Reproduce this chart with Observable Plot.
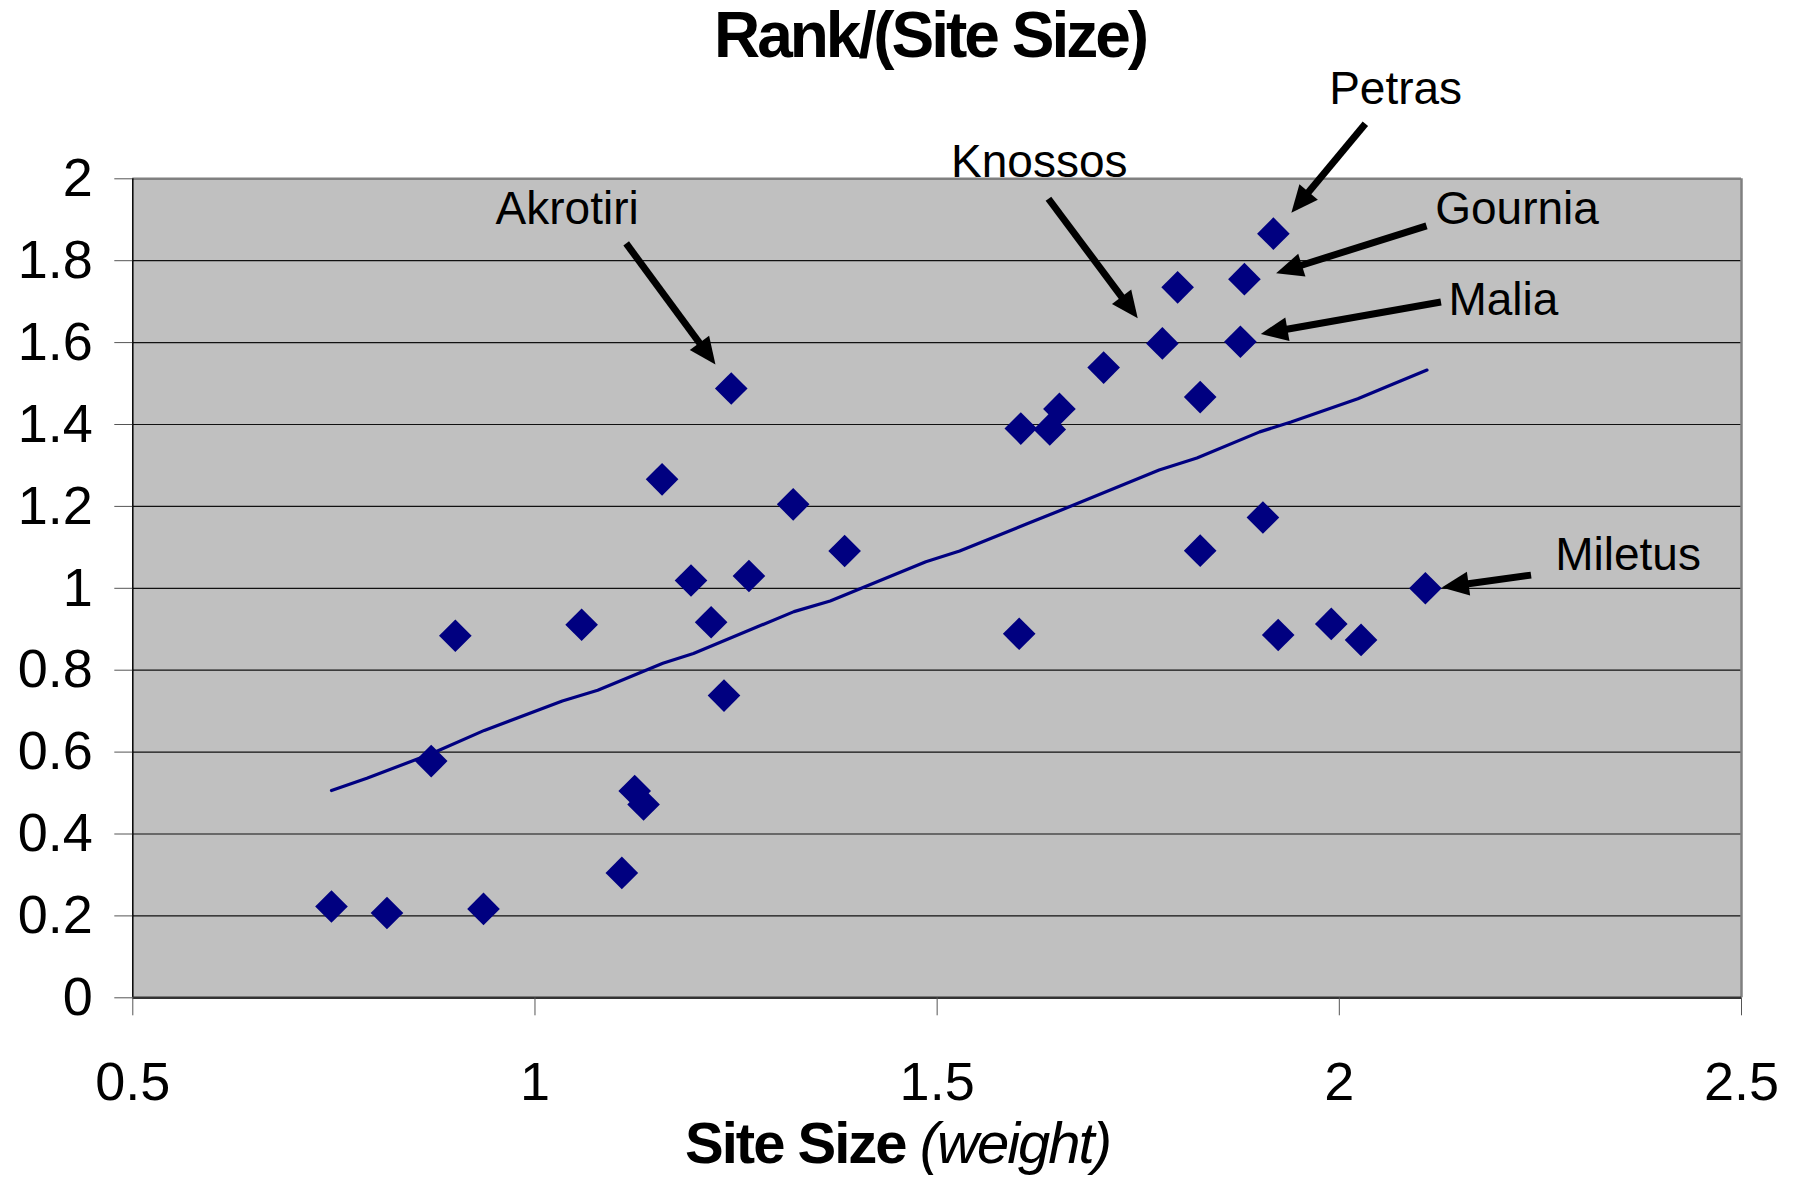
<!DOCTYPE html>
<html>
<head>
<meta charset="utf-8">
<script src="https://cdn.jsdelivr.net/npm/d3@7"></script>
<script src="https://cdn.jsdelivr.net/npm/@observablehq/plot@0.6"></script>
<style>
  html, body { margin: 0; padding: 0; background: white; overflow: hidden; }
  #wrap { position: relative; width: 1808px; height: 1177px; overflow: hidden; font-family: "Liberation Sans", Arial, sans-serif; }
  #title { position: absolute; left: 0; width: 1860px; top: 3px; text-align: center; font-weight: bold; font-size: 64px; line-height: 64px; letter-spacing: -3px; color: black; }
  #xlabel { position: absolute; left: 0; width: 1795px; top: 1114px; text-align: center; font-size: 58px; line-height: 58px; letter-spacing: -2px; color: black; white-space: nowrap; }
  #xlabel b { font-weight: bold; }
  #xlabel i { font-style: italic; font-weight: normal; }
</style>
</head>
<body>
<div id="wrap">
  <div id="chart"></div>
  <div id="title">Rank/(Site Size)</div>
  <div id="xlabel"><b>Site Size</b> <i>(weight)</i></div>
</div>
<script>
// ---- data ----
const siteSize = [0.747, 0.816, 0.871, 0.901, 0.936, 1.058, 1.108, 1.124, 1.135, 1.158,
                  1.194, 1.219, 1.235, 1.244, 1.266, 1.321, 1.385, 1.602, 1.604, 1.640,
                  1.652, 1.707, 1.780, 1.799, 1.827, 1.827, 1.877, 1.882, 1.905, 1.918,
                  1.924, 1.990, 2.027, 2.107];
const rankRatio = [0.223, 0.207, 0.578, 0.884, 0.217, 0.911, 0.305, 0.505, 0.472, 1.266,
                   1.019, 0.917, 0.738, 1.488, 1.030, 1.205, 1.091, 0.889, 1.390, 1.388,
                   1.438, 1.539, 1.598, 1.735, 1.467, 1.092, 1.602, 1.755, 1.173, 1.866,
                   0.886, 0.913, 0.874, 1.000];

const trendX = [0.747, 0.791, 0.871, 0.937, 1.034, 1.078, 1.159, 1.197, 1.322, 1.367,
                1.486, 1.528, 1.611, 1.653, 1.776, 1.823, 1.901, 1.940, 2.023, 2.067, 2.109];
const trendY = [0.506, 0.536, 0.596, 0.653, 0.725, 0.751, 0.817, 0.841, 0.943, 0.969,
                1.065, 1.091, 1.157, 1.190, 1.289, 1.318, 1.382, 1.406, 1.463, 1.499, 1.533];

const labels  = ["Akrotiri", "Knossos", "Petras", "Gournia", "Malia", "Miletus"];
const labelX  = [1.040, 1.627, 2.070, 2.221, 2.204, 2.359];
const labelY  = [1.925, 2.040, 2.218, 1.926, 1.704, 1.080];
const arrowX1 = [1.114, 1.639, 2.033, 2.109, 2.127, 2.239];
const arrowY1 = [1.841, 1.950, 2.133, 1.884, 1.698, 1.031];
const arrowX2 = [1.225, 1.750, 1.941, 1.922, 1.903, 2.128];
const arrowY2 = [1.545, 1.658, 1.916, 1.768, 1.620, 1.001];

const xTicks = [0.5, 1, 1.5, 2, 2.5];
const xTickLabels = ["0.5", "1", "1.5", "2", "2.5"];
const yTicks = [0, 0.2, 0.4, 0.6, 0.8, 1, 1.2, 1.4, 1.6, 1.8, 2];
const yTickLabels = ["0", "0.2", "0.4", "0.6", "0.8", "1", "1.2", "1.4", "1.6", "1.8", "2"];

// ---- custom arrow mark (filled heads) ----
function annotationArrows(index, scales) {
  const {x, y} = scales;
  const g = d3.create("svg:g").attr("fill", "black").attr("stroke", "none");
  const headLen = 27, headHalf = 12, shaftW = 7;
  for (let i = 0; i < labels.length; i++) {
    const x1 = x(arrowX1[i]), y1 = y(arrowY1[i]);
    const x2 = x(arrowX2[i]), y2 = y(arrowY2[i]);
    const dx = x2 - x1, dy = y2 - y1, len = Math.hypot(dx, dy);
    const ux = dx / len, uy = dy / len, nx = -uy, ny = ux;
    const bx = x2 - ux * headLen, by = y2 - uy * headLen;
    g.append("line")
      .attr("x1", x1).attr("y1", y1)
      .attr("x2", bx + ux * 2).attr("y2", by + uy * 2)
      .attr("stroke", "black").attr("stroke-width", shaftW);
    g.append("path")
      .attr("d", `M${x2},${y2}L${bx + nx * headHalf},${by + ny * headHalf}L${bx - nx * headHalf},${by - ny * headHalf}Z`);
  }
  return g.node();
}

const plot = Plot.plot({
  width: 1808,
  height: 1177,
  marginLeft: 132.3,
  marginRight: 67,
  marginTop: 178.3,
  marginBottom: 179.7,
  style: {fontFamily: '"Liberation Sans", Arial, sans-serif', background: "white", overflow: "visible", color: "black"},
  x: {domain: [0.5, 2.5]},
  y: {domain: [0, 2]},
  marks: [
    Plot.frame({fill: "#c0c0c0", stroke: null}),
    Plot.ruleY(yTicks.slice(1, -1), {stroke: "#111", strokeWidth: 1.2}),
    Plot.ruleY([yTicks[yTicks.length - 1]], {stroke: "#808080", strokeWidth: 2.5}),
    Plot.ruleX([xTicks[xTicks.length - 1]], {stroke: "#808080", strokeWidth: 2.5}),
    Plot.ruleX([xTicks[0]], {stroke: "#000", strokeWidth: 1.5}),
    Plot.ruleY([yTicks[0]], {stroke: "#333", strokeWidth: 2.5}),
    Plot.axisY({
      ticks: yTicks,
      tickFormat: d => yTickLabels[yTicks.indexOf(d)],
      tickSize: 18, tickPadding: 22, fontSize: 54,
      stroke: "#555", fill: "black", label: null
    }),
    Plot.axisX({
      ticks: xTicks,
      tickFormat: d => xTickLabels[xTicks.indexOf(d)],
      tickSize: 18, tickPadding: 46, fontSize: 54,
      stroke: "#555", fill: "black", label: null
    }),
    Plot.dot(siteSize, {
      x: d => d, y: (d, i) => rankRatio[i],
      symbol: "diamond2", r: 14.7, fill: "#000080", stroke: null
    }),
    Plot.line(trendX, {
      x: d => d, y: (d, i) => trendY[i],
      stroke: "#000080", strokeWidth: 3.2, curve: "linear"
    }),
    annotationArrows,
    Plot.text(labels, {
      x: (d, i) => labelX[i], y: (d, i) => labelY[i], text: d => d,
      fontSize: 46, fill: "black", textAnchor: "middle", lineAnchor: "middle"
    })
  ]
});

document.getElementById("chart").appendChild(plot);
</script>
</body>
</html>
